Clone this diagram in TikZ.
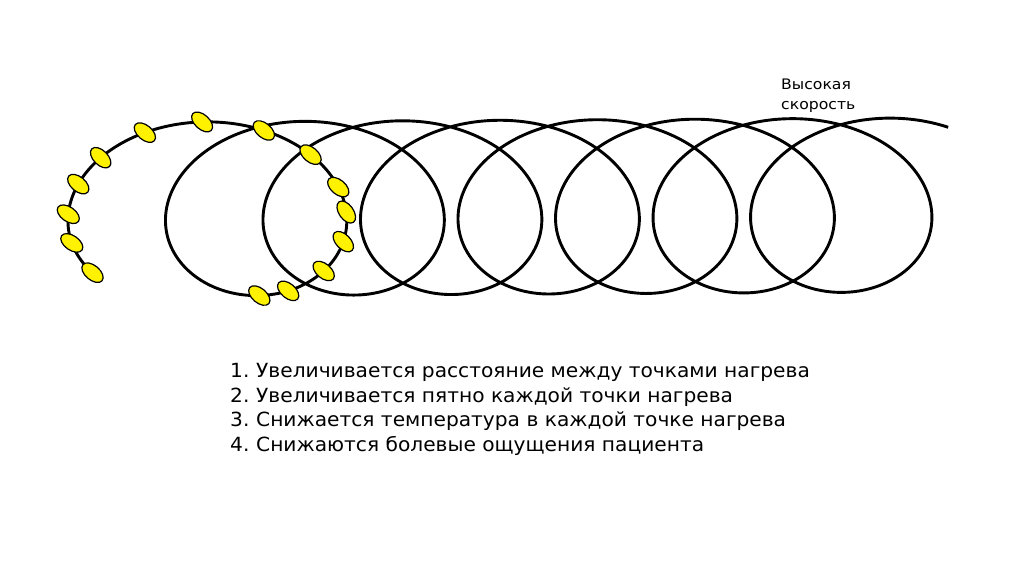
\documentclass[tikz,border=0pt]{standalone}
\usepackage{fontspec}
\setmainfont{DejaVu Sans}
\newfontfamily\listfont[FakeStretch=1.035]{DejaVu Sans}
\newfontfamily\lblfont[FakeStretch=1.08]{DejaVu Sans}
\usetikzlibrary{shapes.geometric}
\tikzset{
  coil/.style={line width=2.9pt, black},
  spot/.style={ellipse, draw=black, line width=1.2pt, fill=yellow, minimum width=25pt, minimum height=14.5pt, inner sep=0pt},
  itemtxt/.style={anchor=base west, inner sep=0pt, font=\listfont\fontsize{19.5}{25}\selectfont},
  lbl/.style={anchor=base west, inner sep=0pt, font=\lblfont\fontsize{14.5}{19}\selectfont}
}
\begin{document}
\begin{tikzpicture}[x=1pt,y=1pt]
\useasboundingbox[fill=white] (0,0) rectangle (1024,574);
% coil
\draw[coil] plot[domain=-0.85:46.03, samples=1500, variable=\t]
  ({183+15.52*\t-114*cos(\t r)}, {365+0.085*\t+87*sin(\t r)});
% heating spots
\foreach \th/\ang [count=\i] in {-0.82/-40,-0.40/-35,-0.06/-35,0.29/-40,0.63/-45,1.07/-40,1.53/-42,2.02/-40,2.47/-40,2.89/-40,3.18/-55,3.53/-45,3.94/-40,4.38/-40,4.68/-40}{
  \pgfmathsetmacro{\px}{183+15.52*\th-114*cos(\th r)}
  \pgfmathsetmacro{\py}{365+0.085*\th+87*sin(\th r)}
  \node[spot, rotate=\ang] (e\i) at (\px,\py) {};
}
% label
\node[lbl] (v1) at (781,484) {Высокая};
\node[lbl] (v2) at (781,464.7) {скорость};
% list
\node[itemtxt] (n1) at (230,196.3) {1.};
\node[itemtxt] (t1) at (256,196.3) {Увеличивается расстояние между точками нагрева};
\node[itemtxt] (n2) at (230,172) {2.};
\node[itemtxt] (t2) at (256,172) {Увеличивается пятно каждой точки нагрева};
\node[itemtxt] (n3) at (230,147.3) {3.};
\node[itemtxt] (t3) at (256,147.3) {Снижается температура в каждой точке нагрева};
\node[itemtxt] (n4) at (230,122.3) {4.};
\node[itemtxt] (t4) at (256,122.3) {Снижаются болевые ощущения пациента};
\end{tikzpicture}
\end{document}
